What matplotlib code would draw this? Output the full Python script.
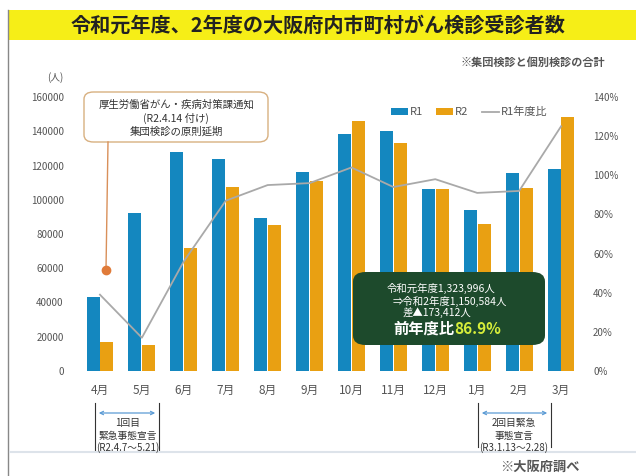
# -*- coding: utf-8 -*-
"""
令和元年度・2年度 大阪府内市町村がん検診受診者数
"""
import matplotlib
matplotlib.use('Agg')
import matplotlib.pyplot as plt
from matplotlib.patches import FancyBboxPatch, Rectangle
from matplotlib.lines import Line2D
import numpy as np

plt.rcParams['font.family'] = ['Noto Sans CJK JP', 'DejaVu Sans']

# =========================================================
# データ
# =========================================================
months = ['4月', '5月', '6月', '7月', '8月', '9月', '10月', '11月', '12月', '1月', '2月', '3月']
r1 = [43000, 92300, 128000, 123800, 89400, 116200, 138400, 140200, 106300, 94000, 115600, 118000]
r2 = [17000, 15200, 71800, 107500, 85300, 111000, 146000, 133100, 106300, 85800, 106900, 148300]
ratio = [39, 17, 56, 87, 95, 96, 104, 94, 98, 91, 92, 125]
yticks_left = [0, 20000, 40000, 60000, 80000, 100000, 120000, 140000, 160000]
yticks_right = [0, 20, 40, 60, 80, 100, 120, 140]

BLUE = '#1487bf'
ORANGE = '#e9a012'
GRAY = '#a9a9a9'
TXT = '#555555'

W, H = 636, 476

def fp(x, y):
    """ピクセル座標 -> figure座標"""
    return x / W, 1 - y / H

fig = plt.figure(figsize=(6.36, 4.76), dpi=100)
fig.patch.set_facecolor('white')

# =========================================================
# タイトル帯
# =========================================================
fig.add_artist(Rectangle(fp(8, 40), (W - 8) / W, 30 / H, transform=fig.transFigure,
                         facecolor='#f6ee17', edgecolor='none'))
fig.add_artist(Line2D([8 / W, 8 / W], [0, 1 - 10 / H], transform=fig.transFigure,
                      color='#888888', lw=1))
fig.text(*fp(318, 25), '令和元年度、2年度の大阪府内市町村がん検診受診者数',
         ha='center', va='center', fontsize=14.5, fontweight='bold', color='#222222')
fig.text(*fp(605, 62), '※集団検診と個別検診の合計', ha='right', va='center',
         fontsize=8, fontweight='bold', color='#555555')
fig.text(*fp(55, 78), '(人)', ha='center', va='center', fontsize=7, color=TXT)

# =========================================================
# グラフ本体
# =========================================================
ax = fig.add_axes([79 / W, (H - 371) / H, (582 - 79) / W, (371 - 97) / H])
x = np.arange(len(months))
bw = 0.31
ax.bar(x - 0.165, r1, width=bw, color=BLUE, label='R1', zorder=2)
ax.bar(x + 0.165, r2, width=bw, color=ORANGE, label='R2', zorder=2)
ax.set_xlim(-0.5, len(months) - 0.5)
ax.set_ylim(0, 160000)
ax.set_yticks(yticks_left)
ax.set_yticklabels([str(v) for v in yticks_left])
ax.set_xticks(x)
ax.set_xticklabels(months)
ax.tick_params(axis='y', length=0, pad=11, labelsize=7, labelcolor=TXT)
ax.tick_params(axis='x', length=0, pad=9, labelsize=8.5, labelcolor=TXT)
for s in ax.spines.values():
    s.set_visible(False)

ax2 = ax.twinx()
ax2.plot(x, ratio, color=GRAY, lw=1.3, label='R1年度比', zorder=3)
ax2.set_ylim(0, 140)
ax2.set_yticks(yticks_right)
ax2.set_yticklabels([f'{v}%' for v in yticks_right])
ax2.tick_params(axis='y', length=0, pad=8, labelsize=7, labelcolor=TXT)
for s in ax2.spines.values():
    s.set_visible(False)

# 凡例
h1, l1 = ax.get_legend_handles_labels()
h2, l2 = ax2.get_legend_handles_labels()
ax.legend(h1 + h2, l1 + l2, loc='upper left', bbox_to_anchor=((381 - 79) / (582 - 79), 1.0),
          ncol=3, frameon=False, fontsize=8, handlelength=1.5, handleheight=0.6,
          columnspacing=1.2, handletextpad=0.2, labelcolor=TXT)

# =========================================================
# 注記
# =========================================================
fig.add_artist(Line2D([106 / W, 108 / W], [1 - 270 / H, 1 - 142 / H], transform=fig.transFigure,
                      color='#d9905a', lw=1))
fig.add_artist(Line2D([106 / W], [1 - 270 / H], transform=fig.transFigure, marker='o',
                      markersize=6, color='#e07b39', lw=0))
box1 = FancyBboxPatch(fp(84, 142), (268 - 84) / W, 50 / H, transform=fig.transFigure,
                      boxstyle='round,pad=0,rounding_size=0.015', facecolor='white',
                      edgecolor='#d8b080', lw=1)
fig.add_artist(box1)
fig.text(*fp(176, 105), '厚生労働省がん・疾病対策課通知', ha='center', va='center', fontsize=7.5, color='#333333')
fig.text(*fp(176, 118), '(R2.4.14 付け)', ha='center', va='center', fontsize=7.5, color='#333333')
fig.text(*fp(176, 131), '集団検診の原則延期', ha='center', va='center', fontsize=7.5, color='#333333')

box2 = FancyBboxPatch(fp(353, 345), (545 - 353) / W, 73 / H, transform=fig.transFigure,
                      boxstyle='round,pad=0,rounding_size=0.02', facecolor='#1d4a2c',
                      edgecolor='none', zorder=5)
fig.add_artist(box2)
fig.text(*fp(441, 288), '令和元年度1,323,996人', ha='center', va='center', fontsize=7.5,
         color='white', zorder=6)
fig.text(*fp(450, 301), '⇒令和2年度1,150,584人', ha='center', va='center', fontsize=7.5,
         color='white', zorder=6)
fig.text(*fp(437, 313), '差▲173,412人', ha='center', va='center', fontsize=7.5,
         color='white', zorder=6)
fig.text(*fp(454, 329), '前年度比', ha='right', va='center', fontsize=11, fontweight='bold',
         color='white', zorder=6)
fig.text(*fp(454, 329), '86.9%', ha='left', va='center', fontsize=11, fontweight='bold',
         color='#d6ee3a', zorder=6)

# 緊急事態宣言の期間
def bracket(x0, x1, y0, y1, ya, lines, xc):
    for xx in (x0, x1):
        fig.add_artist(Line2D([xx / W, xx / W], [1 - y0 / H, 1 - y1 / H],
                              transform=fig.transFigure, color='#333333', lw=0.8))
    fig.add_artist(matplotlib.patches.FancyArrowPatch(fp(x0 + 1, ya), fp(x1 - 1, ya),
                                                      transform=fig.transFigure,
                                                      arrowstyle='<->', mutation_scale=6,
                                                      color='#5b9bd5', lw=0.9))
    for i, t in enumerate(lines):
        fig.text(*fp(xc, 423 + 12.5 * i), t, ha='center', va='center', fontsize=7, color='#333333')

bracket(95, 159, 403, 450, 413, ['1回目', '緊急事態宣言', '(R2.4.7～5.21)'], 128)
bracket(478, 551, 403, 447, 413, ['2回目緊急', '事態宣言', '(R3.1.13～2.28)'], 514)

fig.add_artist(Line2D([10 / W, 1], [1 - 452 / H, 1 - 452 / H], transform=fig.transFigure,
                      color='#dde3ea', lw=1.5))
fig.text(*fp(540, 467), '※大阪府調べ', ha='center', va='center', fontsize=9.5,
         fontweight='bold', color='#555555')

plt.savefig('out.png', dpi=100)
